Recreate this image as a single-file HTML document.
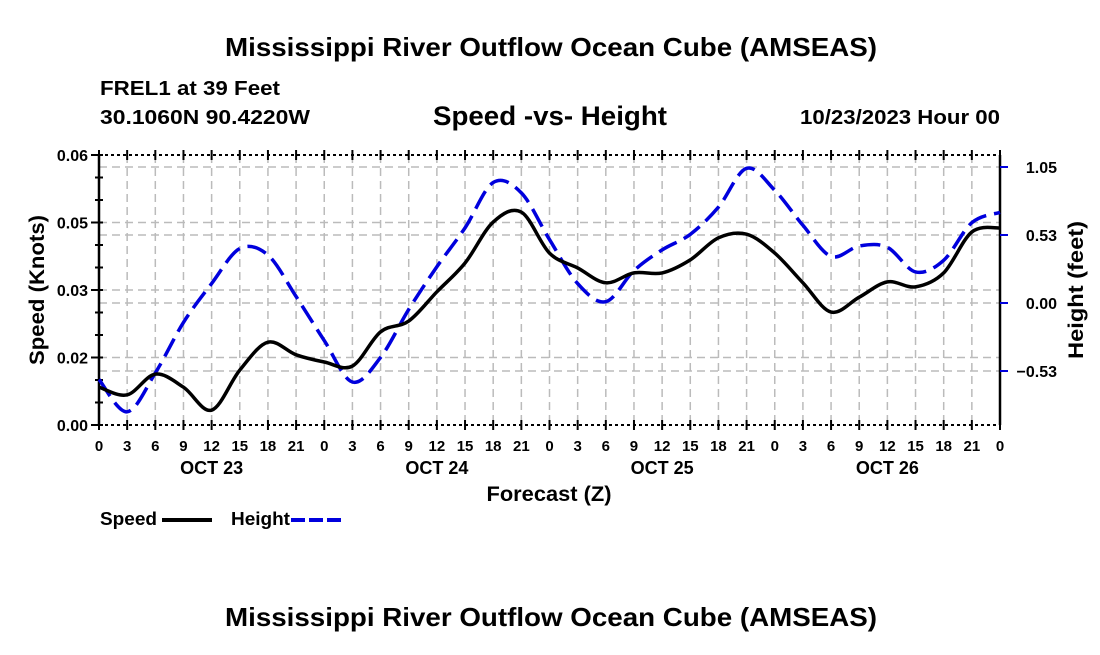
<!DOCTYPE html>
<html><head><meta charset="utf-8"><style>
body{margin:0;background:#fff;}
svg text{font-family:"Liberation Sans",Arial,sans-serif;font-weight:bold;fill:#000;}
</style></head><body>
<svg id="chart" width="1100" height="650" xmlns="http://www.w3.org/2000/svg">
<text x="551" y="56" font-size="26" text-anchor="middle" textLength="652" lengthAdjust="spacingAndGlyphs">Mississippi River Outflow Ocean Cube (AMSEAS)</text>
<text x="100" y="95" font-size="20" textLength="180" lengthAdjust="spacingAndGlyphs">FREL1 at 39 Feet</text>
<text x="100" y="124" font-size="20" textLength="210" lengthAdjust="spacingAndGlyphs">30.1060N  90.4220W</text>
<text x="550" y="125" font-size="27" text-anchor="middle" textLength="234" lengthAdjust="spacingAndGlyphs">Speed -vs- Height</text>
<text x="1000" y="124" font-size="20" text-anchor="end" textLength="200" lengthAdjust="spacingAndGlyphs">10/23/2023 Hour 00</text>
<g id="grid"></g>
<g id="axes"></g>
<g id="series"></g>
<text transform="translate(44,290) rotate(-90)" font-size="21" text-anchor="middle" textLength="150" lengthAdjust="spacingAndGlyphs">Speed (Knots)</text>
<text transform="translate(1083,290) rotate(-90)" font-size="21" text-anchor="middle" textLength="138" lengthAdjust="spacingAndGlyphs">Height (feet)</text>
<text x="549" y="501" font-size="21" text-anchor="middle" textLength="125" lengthAdjust="spacingAndGlyphs">Forecast (Z)</text>
<g>
<text x="100" y="525" font-size="18" textLength="57" lengthAdjust="spacingAndGlyphs">Speed</text>
<line x1="162" y1="520" x2="212" y2="520" stroke="#000" stroke-width="4"/>
<text x="231" y="525" font-size="18" textLength="59" lengthAdjust="spacingAndGlyphs">Height</text>
<line x1="291" y1="520" x2="342" y2="520" stroke="#0000dd" stroke-width="4" stroke-dasharray="14,4"/>
</g>
<text x="551" y="626" font-size="26" text-anchor="middle" textLength="652" lengthAdjust="spacingAndGlyphs">Mississippi River Outflow Ocean Cube (AMSEAS)</text>
</svg>
<script>
const hours = [0,3,6,9,12,15,18,21,24,27,30,33,36,39,42,45,48,51,54,57,60,63,66,69,72,75,78,81,84,87,90,93,96];
const speedValues = [.0084,.0067,.0113,.0084,.0033,.0122,.0184,.0156,.0140,.0131,.0207,.0231,.0296,.0360,.0451,.0473,.0382,.0349,.0316,.0338,.0338,.0367,.0416,.0424,.0382,.0316,.0251,.0284,.0318,.0307,.0338,.0429,.0438];
const heightValues = [-.59,-.84,-.54,-.15,.15,.42,.37,.05,-.29,-.61,-.42,-.05,.28,.58,.93,.85,.49,.15,.01,.25,.41,.53,.74,1.04,.87,.60,.36,.44,.43,.24,.33,.62,.70];
const speedTicks = [0,0.015,0.03,0.045,0.06];
const speedTickLabels = ["0.00","0.02","0.03","0.05","0.06"];
const heightTicks = [-0.525,0,0.525,1.05];
const heightTickLabels = ["\u22120.53","0.00","0.53","1.05"];
const dayLabels = ["OCT 23","OCT 24","OCT 25","OCT 26"];

const X0=99,X1=1000,Y0=425,Y1=155;
const xs=h=>X0+(h/96)*(X1-X0);
const ys=v=>Y0-(v/0.06)*(Y0-Y1);
const yh=v=>303-v*(68/0.525);
const NS="http://www.w3.org/2000/svg";
function mk(parent,tag,attrs){const e=document.createElementNS(NS,tag);for(const k in attrs)e.setAttribute(k,attrs[k]);parent.appendChild(e);return e;}
const grid=document.getElementById('grid'),axes=document.getElementById('axes'),series=document.getElementById('series');
for(let h=3;h<96;h+=3){const l=mk(grid,'line',{x1:xs(h),x2:xs(h),y1:Y1,y2:Y0,stroke:'#bbb','stroke-width':1.5,'stroke-dasharray':'8,5'});

}
speedTicks.slice(1,4).forEach(v=>{const l=mk(grid,'line',{x1:X0,x2:X1,y1:ys(v),y2:ys(v),stroke:'#bbb','stroke-width':1.5,'stroke-dasharray':'8,5'});

});
heightTicks.forEach(v=>{const l=mk(grid,'line',{x1:X0,x2:X1,y1:yh(v),y2:yh(v),stroke:'#bbb','stroke-width':1.5,'stroke-dasharray':'8,5'});

});
[Y1,Y0].forEach(y=>{const l=mk(axes,'line',{x1:X0,x2:X1,y1:y,y2:y,stroke:'#000','stroke-width':2,'stroke-dasharray':'3,3'});

});
const la=mk(axes,'line',{x1:X0,x2:X0,y1:Y1,y2:Y0,stroke:'#000','stroke-width':2.5});


const ra=mk(axes,'line',{x1:X1,x2:X1,y1:Y1,y2:Y0,stroke:'#000','stroke-width':2.5});


for(let h=0;h<=96;h+=3){
 [Y1,Y0].forEach(y=>{const t=mk(axes,'line',{x1:xs(h),x2:xs(h),y1:y-5,y2:y+5,stroke:'#000','stroke-width':2});
 
 });
 const lab=mk(axes,'text',{x:xs(h),y:451,'font-size':15,'text-anchor':'middle'});lab.textContent=String(h%24);
 
 
}
for(let v=0;v<=0.0601;v+=0.005){const t=mk(axes,'line',{x1:X0-4,x2:X0+4,y1:ys(v),y2:ys(v),stroke:'#000','stroke-width':2});

}
speedTicks.forEach((v,i)=>{const lab=mk(axes,'text',{x:88,y:ys(v)+6,'font-size':16,'text-anchor':'end'});lab.textContent=speedTickLabels[i];


const t=mk(axes,'line',{x1:X0-8,x2:X0,y1:ys(v),y2:ys(v),stroke:'#000','stroke-width':2});

});
heightTicks.forEach((v,i)=>{const lab=mk(axes,'text',{x:1057,y:yh(v)+6,'font-size':16,'text-anchor':'end'});lab.textContent=heightTickLabels[i];


const t=mk(axes,'line',{x1:X1,x2:X1+8,y1:yh(v),y2:yh(v),stroke:'#0000dd','stroke-width':2});

});
dayLabels.forEach((d,i)=>{const lab=mk(axes,'text',{x:xs(12+24*i),y:474,'font-size':18,'text-anchor':'middle'});lab.textContent=d;

});
function smooth(pts){let d=`M${pts[0][0]},${pts[0][1]}`;for(let i=0;i<pts.length-1;i++){const p0=pts[Math.max(0,i-1)],p1=pts[i],p2=pts[i+1],p3=pts[Math.min(pts.length-1,i+2)];
d+=` C${p1[0]+(p2[0]-p0[0])/6},${p1[1]+(p2[1]-p0[1])/6} ${p2[0]-(p3[0]-p1[0])/6},${p2[1]-(p3[1]-p1[1])/6} ${p2[0]},${p2[1]}`;}return d;}
const hp=mk(series,'path',{d:smooth(hours.map((h,i)=>[xs(h),yh(heightValues[i])])),fill:'none',stroke:'#0000dd','stroke-width':3.5,'stroke-dasharray':'20,8'});


const sp=mk(series,'path',{d:smooth(hours.map((h,i)=>[xs(h),ys(speedValues[i])])),fill:'none',stroke:'#000','stroke-width':3.5});


</script>
</body></html>
